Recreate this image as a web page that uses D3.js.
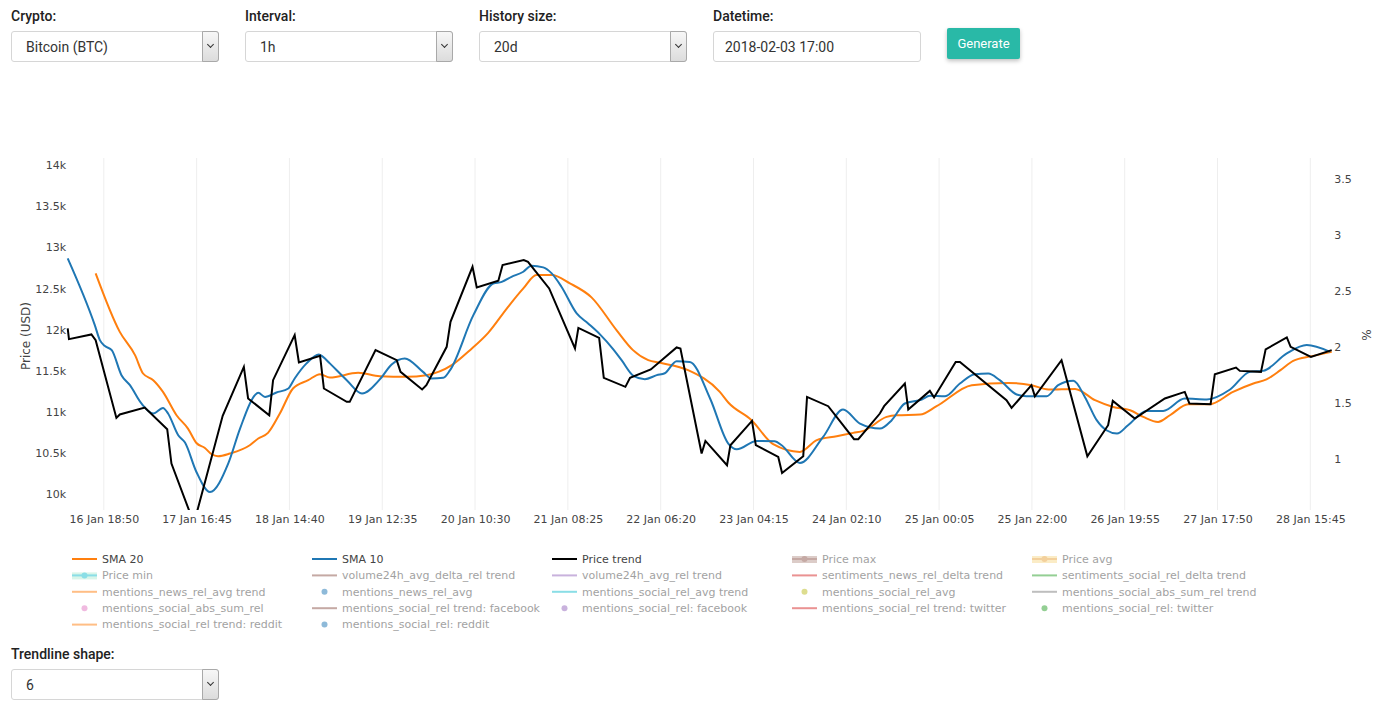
<!DOCTYPE html>
<html>
<head>
<meta charset="utf-8">
<script src="https://d3js.org/d3.v7.min.js"></script>
<style type="text/css">
  body { margin: 0; background: #fff; width: 1400px; height: 714px; overflow: hidden; position: relative; font-family: Roboto, sans-serif; }
  #chart { position: absolute; left: 0; top: 0; }
  .lbl { position: absolute; font-size: 14px; font-weight: 500; color: #222; }
  .sel, .inp {
    position: absolute; height: 31px; box-sizing: border-box;
    border: 1px solid #d6d6d6; border-radius: 3px; background: #fff;
    font-size: 14px; color: #333;
  }
  .sel .val, .inp .val { position: absolute; left: 14px; top: 7px; }
  .sel .arr {
    position: absolute; right: -1px; top: -1px; width: 17px; height: 31px; box-sizing: border-box;
    border: 1px solid #a9a9a9; border-radius: 0 3px 3px 0;
    background: linear-gradient(#f7f7f7, #dcdcdc);
  }
  .sel .arr:after {
    content: ""; position: absolute; left: 5px; top: 10px; width: 4px; height: 4px;
    border-right: 1.3px solid #333; border-bottom: 1.3px solid #333; transform: rotate(45deg);
  }
  .btn {
    position: absolute; left: 947px; top: 28px; width: 73px; height: 31px;
    background: #29b9a7; color: #fff; font-size: 13px; line-height: 31px; text-align: center;
    border-radius: 2px; box-shadow: 0 2px 4px rgba(0,0,0,0.25);
  }
</style>
</head>
<body>

<svg id="chart" width="1400" height="714"></svg>

<div class="lbl" style="left:11px; top:8px;">Crypto:</div>
<div class="sel" style="left:11px; top:31px; width:208px;"><span class="val">Bitcoin (BTC)</span><span class="arr"></span></div>

<div class="lbl" style="left:245px; top:8px;">Interval:</div>
<div class="sel" style="left:245px; top:31px; width:208px;"><span class="val">1h</span><span class="arr"></span></div>

<div class="lbl" style="left:479px; top:8px;">History size:</div>
<div class="sel" style="left:479px; top:31px; width:208px;"><span class="val">20d</span><span class="arr"></span></div>

<div class="lbl" style="left:713px; top:8px;">Datetime:</div>
<div class="inp" style="left:713px; top:31px; width:208px;"><span class="val" style="left:11px">2018-02-03 17:00</span></div>

<div class="btn">Generate</div>

<div class="lbl" style="left:11px; top:646px;">Trendline shape:</div>
<div class="sel" style="left:11px; top:669px; width:208px;"><span class="val">6</span><span class="arr"></span></div>

<script>
// hours since 2018-01-16 00:00 UTC
var priceHours = [10.3,10.6,15.9,16.9,21.8,22.6,28.5,33.8,34.8,39.8,40.7,46.9,51.9,52.9,57.9,58.8,63.9,64.9,69.9,70.8,
  76.2,76.9,83.0,88.0,88.9,94.0,95.0,99.8,100.7,105.9,106.9,112.0,113.0,118.0,119.0,124.0,130.1,130.9,135.8,136.9,
  142.0,143.1,148.0,154.1,155.0,160.0,160.9,166.0,166.8,171.9,172.8,178.1,179.0,184.0,184.9,189.9,196.0,197.0,202.1,203.1,
  208.0,208.8,213.9,214.9,220.0,221.0,232.0,233.2,237.9,238.7,245.0,251.1,256.0,257.1,262.3,269.4,274.1,275.2,280.2,281.2,
  286.2,287.1,292.1,293.2,298.2,299.1,303.9,308.8];
var priceValues = [12015,11885,11942,11872,10928,10969,11054,10790,10373,9690,9760,10953,11548,11164,10960,11386,11933,11601,11681,11285,
  11123,11123,11751,11629,11487,11273,11325,11791,12095,12763,12513,12593,12784,12845,12824,12501,11771,12021,11900,11414,
  11305,11414,11516,11784,11771,10495,10648,10353,10596,10891,10596,10454,10259,10462,11183,11070,10669,10669,10981,11070,
  11346,11030,11256,11176,11608,11608,11143,11049,11325,11191,11629,10462,10839,11134,10920,11164,11244,11103,11094,11459,
  11540,11499,11487,11760,11906,11791,11669,11751];

var sma10Hours = [10.3,16.7,17.9,19.1,20.7,23.0,25.0,27.7,30.5,32.8,34.0,36.4,38.0,40.7,43.9,48.2,51.0,54.5,55.3,56.9,
  59.6,62.4,63.9,66.7,69.6,70.6,72.2,76.2,79.8,84.0,86.8,89.9,94.2,96.2,99.0,100.6,106.1,110.8,112.8,115.1,
  117.9,119.8,122.6,124.6,126.9,130.5,133.2,136.0,139.1,141.1,144.0,146.6,149.4,151.3,154.1,157.2,162.0,166.3,168.3,173.0,
  177.3,178.9,183.2,188.7,193.4,197.4,202.1,204.9,208.0,212.0,213.9,217.5,221.0,224.5,227.7,230.4,234.4,236.7,241.5,244.2,
  247.8,250.5,253.3,255.6,258.1,260.7,265.1,269.0,274.1,279.3,284.8,289.5,292.6,298.2,302.9,308.4];
var sma10Values = [12866,12055,11872,11800,11751,11447,11325,11103,10981,11049,10981,10717,10628,10271,10027,10373,10798,11204,11232,11183,
  11236,11285,11407,11590,11699,11669,11590,11386,11224,11395,11577,11650,11487,11407,11415,11508,12176,12561,12580,12642,
  12703,12776,12756,12683,12521,12197,12075,11942,11763,11629,11435,11398,11447,11470,11615,11608,11164,10616,10547,10648,
  10644,10596,10381,10697,11030,10859,10798,10900,11103,11152,11196,11191,11346,11459,11467,11386,11212,11191,11191,11325,
  11378,11183,10900,10778,10738,10839,11013,11013,11164,11152,11273,11487,11499,11711,11812,11730];

var sma20Hours = [16.9,22.6,26.2,28.1,30.5,32.8,36.0,38.7,40.7,42.7,44.3,45.8,48.6,53.3,55.3,57.6,60.4,63.5,67.1,69.9,
  72.2,78.9,84.0,90.3,95.0,101.0,105.3,109.6,114.3,117.9,121.0,124.6,128.9,134.0,139.9,143.8,147.4,150.2,156.8,164.3,
  166.3,171.8,176.9,183.2,187.2,191.9,195.8,198.2,203.7,206.1,211.6,215.5,223.8,232.4,237.9,241.9,248.2,252.9,257.2,261.2,
  264.3,267.8,270.6,274.9,280.0,285.5,290.3,293.4,296.7,299.7,304.1,308.8];
var sma20Values = [12684,11973,11690,11467,11386,11244,10960,10798,10623,10563,10486,10462,10495,10596,10677,10746,10981,11285,11386,11459,
  11419,11475,11435,11427,11447,11568,11751,11961,12277,12501,12663,12663,12562,12392,11994,11751,11629,11597,11508,11244,
  11115,10900,10608,10515,10657,10705,10746,10770,10940,10960,10969,11070,11325,11353,11325,11273,11280,11143,11061,11021,
  10940,10879,10960,11094,11094,11244,11346,11395,11508,11621,11678,11730];

var xTickLabels = ["16 Jan 18:50","17 Jan 16:45","18 Jan 14:40","19 Jan 12:35","20 Jan 10:30","21 Jan 08:25","22 Jan 06:20",
  "23 Jan 04:15","24 Jan 02:10","25 Jan 00:05","25 Jan 22:00","26 Jan 19:55","27 Jan 17:50","28 Jan 15:45"];
var priceTicks = [10000,10500,11000,11500,12000,12500,13000,13500,14000];
var pctTicks = [1,1.5,2,2.5,3,3.5];

var legendNames = ["SMA 20","SMA 10","Price trend","Price max","Price avg",
  "Price min","volume24h_avg_delta_rel trend","volume24h_avg_rel trend","sentiments_news_rel_delta trend","sentiments_social_rel_delta trend",
  "mentions_news_rel_avg trend","mentions_news_rel_avg","mentions_social_rel_avg trend","mentions_social_rel_avg","mentions_social_abs_sum_rel trend",
  "mentions_social_abs_sum_rel","mentions_social_rel trend: facebook","mentions_social_rel: facebook","mentions_social_rel trend: twitter","mentions_social_rel: twitter",
  "mentions_social_rel trend: reddit","mentions_social_rel: reddit"];
var legendKinds = ["line","line","line","fill","fill",
  "fill","line","line","line","line",
  "line","dot","line","dot","line",
  "dot","line","dot","line","dot",
  "line","dot"];
var legendColors = ["#ff7f0e","#1f77b4","#000000","#8c564b","#e8a33c",
  "#17becf","#8c564b","#9467bd","#d62728","#2ca02c",
  "#ff7f0e","#1f77b4","#17becf","#bcbd22","#7f7f7f",
  "#e377c2","#8c564b","#9467bd","#d62728","#2ca02c",
  "#ff7f0e","#1f77b4"];
var legendFills = {"Price max": "#8c564b", "Price avg": "#f5c242", "Price min": "#7fe0b8"};
var legendShown = ["SMA 20","SMA 10","Price trend"];

var svg = d3.select("#chart");
var plotLeft = 67.7, plotRight = 1331.7, plotTop = 158, plotBottom = 510;
var base = Date.UTC(2018, 0, 16);
function toDate(h) { return new Date(base + h * 3600e3); }

var allHours = priceHours.concat(sma10Hours, sma20Hours);
var x = d3.scaleUtc()
  .domain(d3.extent(allHours).map(toDate))
  .range([plotLeft, plotRight]);
var y = d3.scaleLinear().domain([9809, 14085]).range([plotBottom, plotTop]);
var y2 = d3.scaleLinear().domain([0.545, 3.69]).range([plotBottom, plotTop]);

var parseTick = d3.utcParse("%Y %d %b %H:%M");
var xTicks = xTickLabels.map(function(s) { return parseTick("2018 " + s); });

// vertical grid
svg.append("g").selectAll("line").data(xTicks).enter().append("line")
  .attr("x1", function(d) { return x(d); }).attr("x2", function(d) { return x(d); })
  .attr("y1", plotTop).attr("y2", plotBottom)
  .attr("stroke", "#eeeeee").attr("stroke-width", 1);

var axisFont = "'DejaVu Sans', Verdana, sans-serif";

var gx = svg.append("g").attr("transform", "translate(0," + plotBottom + ")")
  .call(d3.axisBottom(x).tickValues(xTicks).tickFormat(d3.utcFormat("%d %b %H:%M")).tickSize(0).tickPadding(5));
var gy = svg.append("g").attr("transform", "translate(" + (plotLeft - 1.5) + ",0)")
  .call(d3.axisLeft(y).tickValues(priceTicks).tickFormat(d3.format("~s")).tickSize(0).tickPadding(0));
var gy2 = svg.append("g").attr("transform", "translate(" + (plotRight + 2.5) + ",0)")
  .call(d3.axisRight(y2).tickValues(pctTicks).tickFormat(d3.format("~g")).tickSize(0).tickPadding(0));
[gx, gy, gy2].forEach(function(g) {
  g.select(".domain").remove();
  g.selectAll("text").attr("fill", "#444").style("font-family", axisFont).style("font-size", "11px");
});

svg.append("text").attr("transform", "translate(30,336) rotate(-90)")
  .attr("text-anchor", "middle").attr("fill", "#444")
  .style("font-family", axisFont).style("font-size", "12px").text("Price (USD)");
svg.append("text").attr("transform", "translate(1371,335) rotate(-90)")
  .attr("text-anchor", "middle").attr("fill", "#444")
  .style("font-family", axisFont).style("font-size", "12px").text("%");

svg.append("clipPath").attr("id", "plotclip").append("rect")
  .attr("x", plotLeft - 2).attr("y", plotTop).attr("width", plotRight - plotLeft + 4).attr("height", plotBottom - plotTop);

function series(hours, values) {
  return hours.map(function(h, i) { return { t: toDate(h), v: values[i] }; });
}
var plot = svg.append("g").attr("clip-path", "url(#plotclip)");
var smooth = d3.line().x(function(d) { return x(d.t); }).y(function(d) { return y(d.v); }).curve(d3.curveMonotoneX);
var straight = d3.line().x(function(d) { return x(d.t); }).y(function(d) { return y(d.v); });

plot.append("path").datum(series(sma20Hours, sma20Values))
  .attr("d", smooth).attr("fill", "none").attr("stroke", "#ff7f0e").attr("stroke-width", 2);
plot.append("path").datum(series(sma10Hours, sma10Values))
  .attr("d", smooth).attr("fill", "none").attr("stroke", "#1f77b4").attr("stroke-width", 2);
plot.append("path").datum(series(priceHours, priceValues))
  .attr("d", straight).attr("fill", "none").attr("stroke", "#000").attr("stroke-width", 2);

// legend
var legend = svg.append("g");
var items = legend.selectAll("g").data(legendNames).enter().append("g")
  .attr("transform", function(d, i) { return "translate(" + (72 + (i % 5) * 240) + "," + (559 + Math.floor(i / 5) * 16.4) + ")"; })
  .attr("opacity", function(d) { return legendShown.indexOf(d) >= 0 ? 1 : 0.5; });

items.each(function(name, i) {
  var g = d3.select(this), c = legendColors[i], k = legendKinds[i];
  if (k === "line") {
    g.append("line").attr("x1", 0).attr("x2", 25).attr("stroke", c).attr("stroke-width", 2);
  } else if (k === "dot") {
    g.append("circle").attr("cx", 12.5).attr("r", 3).attr("fill", c);
  } else {
    g.append("rect").attr("x", 0).attr("y", -3).attr("width", 25).attr("height", 7)
      .attr("fill", legendFills[name]).attr("fill-opacity", 0.6);
    g.append("line").attr("x1", 0).attr("x2", 25).attr("stroke", c).attr("stroke-width", 2);
    g.append("circle").attr("cx", 12.5).attr("r", 3).attr("fill", c);
  }
  g.append("text").attr("x", 30).attr("dy", "0.35em").attr("fill", "#444")
    .style("font-family", axisFont).style("font-size", "11px").text(name);
});
</script>
</body>
</html>
